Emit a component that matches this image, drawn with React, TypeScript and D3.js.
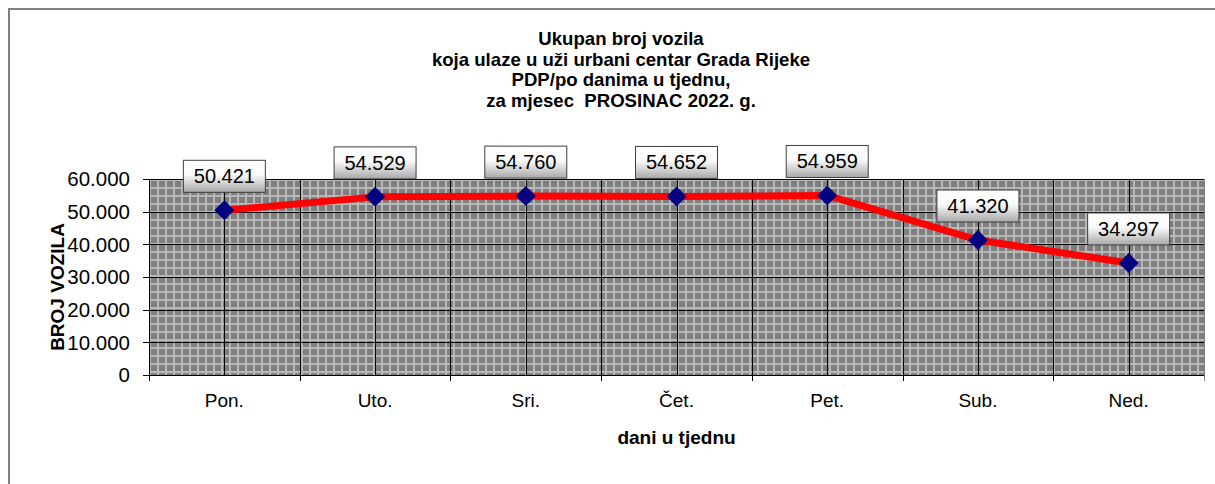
import React from 'react';
import * as d3 from 'd3';

const days = ['Pon.', 'Uto.', 'Sri.', 'Čet.', 'Pet.', 'Sub.', 'Ned.'];
const vehicles = [50421, 54529, 54760, 54652, 54959, 41320, 34297];
const yTicks = [0, 10000, 20000, 30000, 40000, 50000, 60000];
const titleLines = [
  'Ukupan broj vozila',
  'koja ulaze u uži urbani centar Grada Rijeke',
  'PDP/po danima u tjednu,',
  'za mjesec  PROSINAC 2022. g.',
];

const W = 1215;
const H = 484;
const plot = { left: 149, right: 1204, top: 179, bottom: 375 };
const FONT = '"Liberation Sans", Arial, Helvetica, sans-serif';

const hr = d3.formatLocale({ decimal: ',', thousands: '.', grouping: [3], currency: ['', ''] });
const fmt = hr.format(',.0f');

export default function App() {
  const x = d3.scaleBand<string>().domain(days).range([plot.left, plot.right]);
  const y = d3.scaleLinear().domain([0, 60000]).range([plot.bottom, plot.top]);
  const cx = (d: string) => (x(d) as number) + x.bandwidth() / 2;

  const line = d3.line<number>()
    .x((_, i) => cx(days[i]))
    .y(v => y(v));

  // gridlines: category boundaries and centers
  const bounds = days.map(d => x(d) as number).concat([plot.right]);
  const centers = days.map(cx);

  return (
    <svg width={W} height={H} style={{ position: 'absolute', left: 0, top: 0 }} fontFamily={FONT}>
      <defs>
        <pattern id="grid" width={8} height={8} patternUnits="userSpaceOnUse" x={plot.left} y={plot.top}>
          <rect width={8} height={8} fill="#b8b8b8" />
          <rect x={2} y={2} width={6} height={6} fill="#7e7e7e" />
        </pattern>
        <linearGradient id="lbl" x1="0" y1="0" x2="0" y2="1">
          <stop offset="0%" stopColor="#ffffff" />
          <stop offset="45%" stopColor="#fafafa" />
          <stop offset="100%" stopColor="#a8a8a8" />
        </linearGradient>
      </defs>

      <rect x={0} y={0} width={W} height={H} fill="#fff" />
      {/* outer frame */}
      <path d={`M9,${H + 5}L9,9L${W + 5},9`} fill="none" stroke="#808080" strokeWidth={2} />

      {/* title */}
      <g fontWeight="bold" fontSize={18.6} textAnchor="middle">
        {titleLines.map((t, i) => (
          <text key={i} x={621} y={45 + i * 20.5} style={{ whiteSpace: 'pre' }}>{t}</text>
        ))}
      </g>

      {/* plot area */}
      <rect x={plot.left} y={plot.top} width={plot.right - plot.left} height={plot.bottom - plot.top} fill="url(#grid)" />
      <g stroke="#000" strokeWidth={1}>
        {yTicks.map(t => (
          <line key={t} x1={plot.left - 6} x2={plot.right} y1={Math.round(y(t)) + 0.5} y2={Math.round(y(t)) + 0.5} />
        ))}
        {bounds.map((b, i) => (
          <line key={'b' + i} x1={Math.round(b) + 0.5} x2={Math.round(b) + 0.5} y1={plot.top} y2={plot.bottom + 6} />
        ))}
        {centers.map((c, i) => (
          <line key={'c' + i} x1={Math.round(c) + 0.5} x2={Math.round(c) + 0.5} y1={plot.top} y2={plot.bottom} />
        ))}
      </g>
      <line x1={plot.right + 0.5} x2={plot.right + 0.5} y1={plot.top} y2={plot.bottom + 6} stroke="#808080" />

      {/* y axis labels */}
      <g fontSize={20.5} textAnchor="end">
        {yTicks.map(t => (
          <text key={t} x={130} y={y(t)} dy="0.36em">{fmt(t)}</text>
        ))}
      </g>
      <text transform="translate(64,287) rotate(-90)" textAnchor="middle" fontWeight="bold" fontSize={19}>BROJ VOZILA</text>

      {/* x axis labels */}
      <g fontSize={19} textAnchor="middle">
        {days.map(d => (
          <text key={d} x={cx(d)} y={407}>{d}</text>
        ))}
      </g>
      <text x={(plot.left + plot.right) / 2} y={444} textAnchor="middle" fontWeight="bold" fontSize={19}>dani u tjednu</text>

      {/* series */}
      <path d={line(vehicles) as string} fill="none" stroke="#ff0000" strokeWidth={7} strokeLinejoin="round" />
      {vehicles.map((v, i) => (
        <path key={i} d="M0,-10L10,0L0,10L-10,0Z" transform={`translate(${cx(days[i])},${y(v)})`} fill="#000080" />
      ))}

      {/* data labels */}
      {vehicles.map((v, i) => {
        const px = cx(days[i]);
        const py = y(v);
        return (
          <g key={'l' + i} transform={`translate(${px},${py - 18})`}>
            <rect x={-41} y={-32} width={82} height={32} fill="url(#lbl)" stroke="#404040" strokeWidth={1} />
            <text x={0} y={-9} textAnchor="middle" fontSize={20}>{fmt(v)}</text>
          </g>
        );
      })}
    </svg>
  );
}
